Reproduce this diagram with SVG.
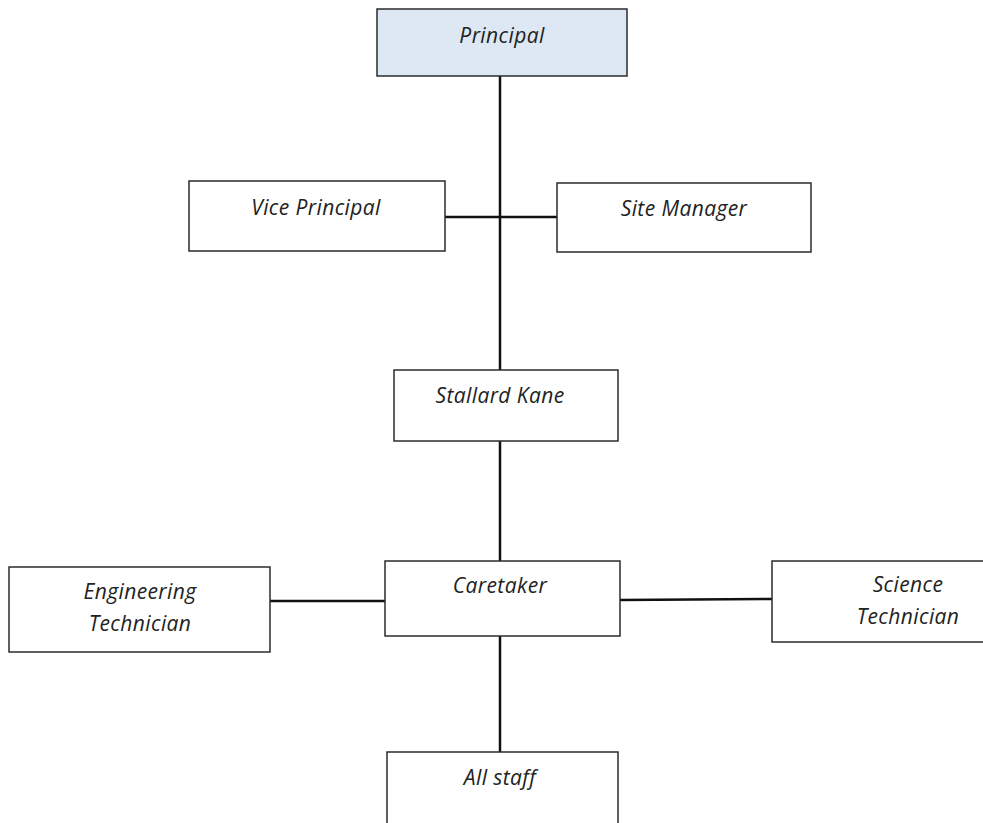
<svg xmlns="http://www.w3.org/2000/svg" width="983" height="823" viewBox="0 0 983 823">
<style>
.box{fill:#ffffff;stroke:#2b2b2b;stroke-width:1.5}
.top{fill:#dde8f4}
.t{font-family:"Open Sans","Liberation Sans",sans-serif;font-style:italic;font-size:21px;letter-spacing:0.4px;fill:#222;text-anchor:middle}
.c{stroke:#111;stroke-width:2.5;fill:none}
</style>
<rect width="983" height="823" fill="#ffffff"/>
<g id="connectors">
<line class="c" x1="500" y1="76" x2="500" y2="370"/>
<line class="c" x1="445" y1="217" x2="557" y2="217"/>
<line class="c" x1="500" y1="441" x2="500" y2="561"/>
<line class="c" x1="270" y1="601" x2="385" y2="601"/>
<line class="c" x1="620" y1="600" x2="772" y2="599"/>
<line class="c" x1="500" y1="636" x2="500" y2="752"/>
</g>
<g id="principal">
<rect class="box top" x="377" y="9" width="250" height="67"/>
<text class="t" x="502" y="43">Principal</text>
</g>
<g id="vice-principal">
<rect class="box" x="189" y="181" width="256" height="70"/>
<text class="t" x="316" y="215">Vice Principal</text>
</g>
<g id="site-manager">
<rect class="box" x="557" y="183" width="254" height="69"/>
<text class="t" x="684" y="216">Site Manager</text>
</g>
<g id="stallard-kane">
<rect class="box" x="394" y="370" width="224" height="71"/>
<text class="t" x="500" y="403">Stallard Kane</text>
</g>
<g id="caretaker">
<rect class="box" x="385" y="561" width="235" height="75"/>
<text class="t" x="500" y="593">Caretaker</text>
</g>
<g id="engineering-technician">
<rect class="box" x="9" y="567" width="261" height="85"/>
<text class="t" x="140" y="599">Engineering</text>
<text class="t" x="140" y="631">Technician</text>
</g>
<g id="science-technician">
<rect class="box" x="772" y="561" width="220" height="81"/>
<text class="t" x="908" y="592">Science</text>
<text class="t" x="908" y="624">Technician</text>
</g>
<g id="all-staff">
<rect class="box" x="387" y="752" width="231" height="80"/>
<text class="t" x="500" y="785">All staff</text>
</g>
</svg>
